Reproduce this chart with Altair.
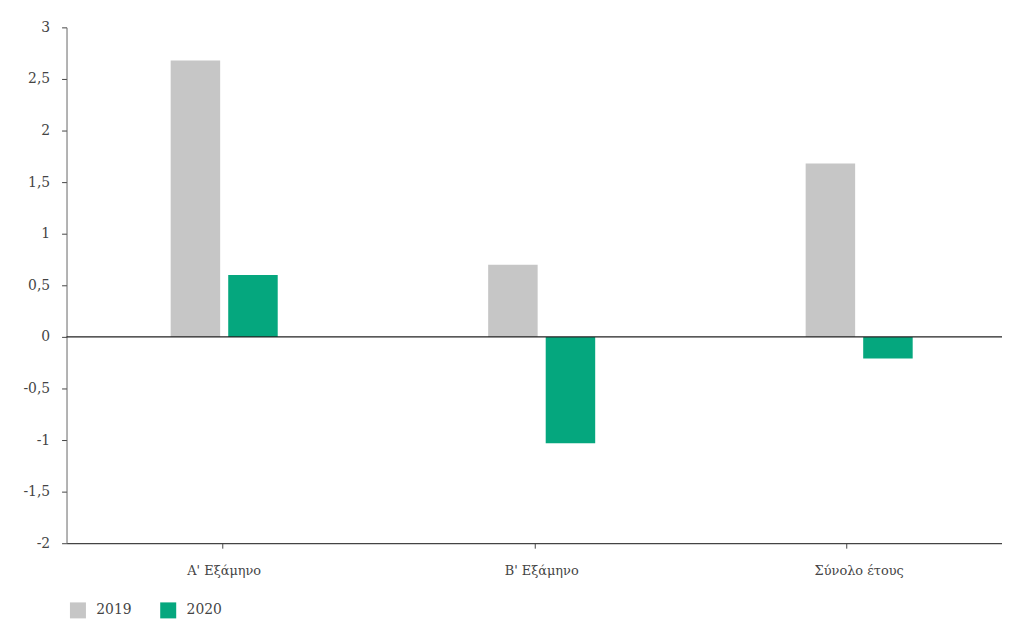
import altair as alt
import pandas as pd

categories = ["A' Εξάμηνο", "B' Εξάμηνο", "Σύνολο έτους"]
series = ["2019", "2020"]
values_2019 = [2.68, 0.70, 1.68]
values_2020 = [0.60, -1.03, -0.21]
y_ticks = [-2, -1.5, -1, -0.5, 0, 0.5, 1, 1.5, 2, 2.5, 3]
colors = ["#c6c6c6", "#05a77e"]

rows = []
for c, a, b in zip(categories, values_2019, values_2020):
    rows.append({"cat": c, "year": "2019", "value": a})
    rows.append({"cat": c, "year": "2020", "value": b})
df = pd.DataFrame(rows)
df_cats = pd.DataFrame({"cat": categories})

FONT = "DejaVu Serif"

bars = alt.Chart(df).mark_bar().encode(
    x=alt.X("cat:N", sort=categories, title=None,
            scale=alt.Scale(paddingInner=0.6375, paddingOuter=0.292, align=0.54),
            axis=alt.Axis(orient="bottom", labelAngle=0, labelPadding=22, ticks=False,
                          domainColor="#444", domainWidth=1.2,
                          labelFont=FONT, labelFontSize=13, labelColor="#444")),
    xOffset=alt.XOffset("year:N", sort=series,
                        scale=alt.Scale(paddingInner=0.14, paddingOuter=0.07)),
    y=alt.Y("value:Q", title=None,
            scale=alt.Scale(domain=[-2, 3], nice=False, zero=False),
            axis=alt.Axis(values=y_ticks, grid=False, tickSize=5, tickColor="#444",
                          domainColor="#666", labelPadding=12,
                          labelExpr="replace(replace(format(datum.value, '~g'), '.', ','), '\u2212', '-')",
                          labelFont=FONT, labelFontSize=14, labelColor="#444")),
    color=alt.Color("year:N", sort=series, title=None,
                    scale=alt.Scale(domain=series, range=colors),
                    legend=alt.Legend(orient="none", legendX=3, legendY=579,
                                      direction="horizontal", symbolType="square",
                                      symbolSize=260, symbolStrokeWidth=0,
                                      labelFont=FONT, labelFontSize=14, labelColor="#444",
                                      columnPadding=28, labelOffset=10)),
)

tick_layer = alt.Chart(df_cats).mark_point(opacity=0).encode(
    x=alt.X("cat:N", sort=categories, title=None,
            scale=alt.Scale(paddingInner=0, paddingOuter=0),
            axis=alt.Axis(orient="bottom", labels=False, domain=False, bandPosition=0,
                          tickSize=5, tickColor="#444")),
)

zero = alt.Chart(pd.DataFrame({"v": [0]})).mark_rule(color="#222", strokeWidth=1.5).encode(
    y=alt.Y("v:Q")
)

chart = alt.layer(bars, zero, tick_layer).resolve_scale(x="independent").properties(
    width=943, height=520,
    autosize=alt.AutoSizeParams(type="none"),
    padding={"left": 59, "top": 17, "right": 0, "bottom": 90},
    background="white",
).configure_view(stroke=None)

chart.save("out.html", embed_options={"renderer": "svg", "actions": False})
